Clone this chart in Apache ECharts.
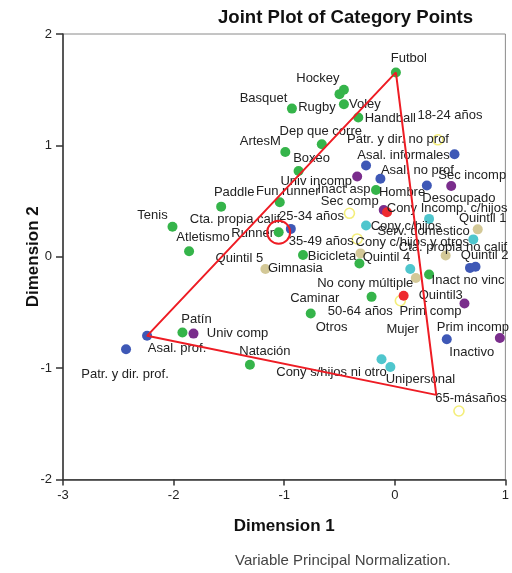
<!DOCTYPE html>
<html>
<head>
<meta charset="utf-8">
<script src="https://cdn.jsdelivr.net/npm/echarts@6/dist/echarts.min.js"></script>
<style>
  html, body { margin: 0; padding: 0; background: #fff; }
  #chart { width: 512px; height: 573px; }
</style>
</head>
<body>
<div id="chart"></div>
<script>
// Category points: [label, dimension 1, dimension 2]
const deportes = [
  ['Futbol', 0.01, 1.655], ['Hockey', -0.46, 1.50], ['Basquet', -0.50, 1.46],
  ['Rugby', -0.93, 1.33], ['Voley', -0.46, 1.37], ['Handball', -0.33, 1.25],
  ['Dep que corre', -0.66, 1.01], ['ArtesM', -0.99, 0.94], ['Boxeo', -0.87, 0.77],
  ['Fun runner', -1.04, 0.49], ['Paddle', -1.57, 0.45], ['Tenis', -2.01, 0.27],
  ['Atletismo', -1.86, 0.05], ['Runner', -1.05, 0.22], ['Bicicleta', -0.83, 0.015],
  ['Gimnasia', -0.32, -0.06], ['Caminar', -0.76, -0.51], ['Otros', -0.21, -0.36],
  ['Patín', -1.92, -0.68], ['Natación', -1.31, -0.97]
];
const ocupacion = [
  ['Asal. prof.', -2.24, -0.71], ['Patr. y dir. prof.', -2.43, -0.83],
  ['Patr. y dir. no prof', -0.26, 0.82], ['Asal. informales', 0.54, 0.92],
  ['Asal. no prof', -0.13, 0.70], ['Desocupado', 0.29, 0.64],
  ['Inactivo', 0.47, -0.74], ['Cta. propia calif.', -0.94, 0.25],
  ['Cta. propia no calif', 0.68, -0.10], ['Serv. domestico', 0.73, -0.09]
];
const inactividad = [
  ['Inact asp', -0.17, 0.60], ['Inact no vinc', 0.31, -0.16]
];
const educacion = [
  ['Univ comp', -1.82, -0.69], ['Univ incomp', -0.34, 0.72], ['Sec comp', -0.10, 0.42],
  ['Sec incomp', 0.51, 0.635], ['Prim comp', 0.63, -0.42], ['Prim incomp', 0.95, -0.73]
];
const sexo = [
  ['Hombre', -0.07, 0.40], ['Mujer', 0.08, -0.35]
];
const edad = [
  ['18-24 años', 0.39, 1.05], ['25-34 años', -0.41, 0.39], ['35-49 años', -0.34, 0.16],
  ['50-64 años', 0.05, -0.395], ['65-másaños', 0.58, -1.385]
];
const hogar = [
  ['Cony c/hijos', -0.26, 0.28], ['Cony Incomp. c/hijos', 0.31, 0.34],
  ['Cony c/hijos y otros', 0.71, 0.156], ['No cony múltiple', 0.14, -0.11],
  ['Cony s/hijos ni otro', -0.12, -0.92], ['Unipersonal', -0.04, -0.99]
];
const quintiles = [
  ['Quintil 1', 0.75, 0.246], ['Quintil 2', 0.46, 0.011], ['Quintil3', 0.19, -0.19],
  ['Quintil 4', -0.31, 0.03], ['Quintil 5', -1.17, -0.11]
];
// Annotation triangle (data units) and the highlighted category
const triangulo = [[0.01, 1.655], [-2.24, -0.71], [0.375, -1.24], [0.01, 1.655]];
const destacado = 'Runner';

const xTicks = [-3, -2, -1, 0, 1];
const yTicks = [-2, -1, 0, 1, 2];

// Label placement relative to each point (pixels)
const labelOffsets = {
  'Futbol': [13, -14], 'Hockey': [-26, -11], 'Basquet': [-76, 4], 'Rugby': [25, -1],
  'Voley': [21, 0], 'Handball': [32, 1], 'Dep que corre': [-1, -13], 'ArtesM': [-25, -11],
  'Boxeo': [13, -13], 'Fun runner': [8, -11], 'Paddle': [13, -14], 'Tenis': [-20, -11],
  'Atletismo': [14, -14], 'Runner': [-26, 1], 'Bicicleta': [29, 1], 'Gimnasia': [-64, 5],
  'Caminar': [4, -15], 'Otros': [-40, 31], 'Patín': [14, -13], 'Natación': [15, -13],
  'Asal. prof.': [30, 13], 'Patr. y dir. prof.': [-1, 25], 'Patr. y dir. no prof': [32, -26],
  'Asal. informales': [-51, 1], 'Asal. no prof': [37, -8], 'Desocupado': [32, 13],
  'Inactivo': [25, 13], 'Cta. propia calif.': [-54, -9], 'Cta. propia no calif': [-17, -20],
  'Serv. domestico': [-52, -35], 'Inact asp': [-32, -1], 'Inact no vinc': [39, 6],
  'Univ comp': [44, 0], 'Univ incomp': [-41, 5], 'Sec comp': [-34, -9], 'Sec incomp': [21, -11],
  'Prim comp': [-34, 8], 'Prim incomp': [-27, -11], 'Hombre': [15, -20], 'Mujer': [-1, 34],
  '18-24 años': [12, -24], '25-34 años': [-38, 3], '35-49 años': [-36, 2], '50-64 años': [-40, 11],
  '65-másaños': [12, -13], 'Cony c/hijos': [40, 1], 'Cony Incomp. c/hijos': [18, -10],
  'Cony c/hijos y otros': [-61, 3], 'No cony múltiple': [-45, 14], 'Cony s/hijos ni otro': [-50, 13],
  'Unipersonal': [30, 12], 'Quintil 1': [5, -11], 'Quintil 2': [39, 0], 'Quintil3': [25, 18],
  'Quintil 4': [26, 4], 'Quintil 5': [-26, -11]
};

const FONT = '"Liberation Sans", Arial, sans-serif';

function pointSeries(rows, style) {
  return {
    type: 'scatter',
    symbol: 'circle',
    symbolSize: style.size || 10,
    itemStyle: Object.assign({ opacity: 1 }, style.item),
    z: 3,
    label: {
      show: true,
      position: 'inside',
      formatter: '{b}',
      fontFamily: FONT,
      fontSize: 13,
      color: '#222',
      align: 'center',
      verticalAlign: 'middle'
    },
    emphasis: { disabled: true },
    data: rows.map(([name, d1, d2]) => ({
      name: name,
      value: [d1, d2],
      label: { offset: labelOffsets[name] || [0, 0] }
    }))
  };
}

const runnerRow = deportes.find(r => r[0] === destacado);

const option = {
  animation: false,
  backgroundColor: '#fff',
  grid: {
    left: 63, top: 34, right: 2.5, bottom: 93.5,
    show: true, borderColor: '#8a8a8a', borderWidth: 1
  },
  xAxis: {
    type: 'value', min: xTicks[0], max: xTicks[xTicks.length - 1], interval: 1,
    name: 'Dimension 1', nameLocation: 'middle', nameGap: 38,
    nameTextStyle: { fontFamily: FONT, fontSize: 17, fontWeight: 'bold', color: '#111' },
    axisLine: { show: true, onZero: false, lineStyle: { color: '#333', width: 1.5 } },
    axisTick: { show: true, length: 6, lineStyle: { color: '#333', width: 1.5 } },
    axisLabel: { margin: 9, fontFamily: FONT, fontSize: 13, color: '#222' },
    splitLine: { show: false }
  },
  yAxis: {
    type: 'value', min: yTicks[0], max: yTicks[yTicks.length - 1], interval: 1,
    name: 'Dimension 2', nameLocation: 'middle', nameGap: 21, nameRotate: 90,
    nameMoveOverlap: false,
    nameTextStyle: { fontFamily: FONT, fontSize: 17, fontWeight: 'bold', color: '#111' },
    axisLine: { show: true, onZero: false, lineStyle: { color: '#333', width: 1.5 } },
    axisTick: { show: true, length: 7, lineStyle: { color: '#333', width: 1.5 } },
    axisLabel: { margin: 11, fontFamily: FONT, fontSize: 13, color: '#222' },
    splitLine: { show: false }
  },
  graphic: [
    { type: 'text', left: 218, top: 8,
      style: { text: 'Joint Plot of Category Points', font: 'bold 18.6px ' + FONT, fill: '#111' } },
    { type: 'text', left: 235, top: 553,
      style: { text: 'Variable Principal Normalization.', font: '15px ' + FONT, fill: '#444' } }
  ],
  series: [
    pointSeries(deportes, { item: { color: '#35b44a' } }),
    pointSeries(ocupacion, { item: { color: '#3e58b6' } }),
    pointSeries(inactividad, { item: { color: '#35b44a' } }),
    pointSeries(educacion, { item: { color: '#7a2d8c' } }),
    pointSeries(edad, { size: 10, item: { color: '#ffffff', borderColor: '#f4ee7a', borderWidth: 1.6 } }),
    pointSeries(sexo, { item: { color: '#ee2a2f' } }),
    pointSeries(hogar, { item: { color: '#4fc6cd' } }),
    pointSeries(quintiles, { item: { color: '#d3c897' } }),
    {
      type: 'line',
      data: triangulo,
      symbol: 'none',
      z: 6,
      lineStyle: { color: '#ee1c24', width: 2 },
      emphasis: { disabled: true },
      silent: true
    },
    {
      type: 'scatter',
      data: [[runnerRow[1], runnerRow[2]]],
      symbol: 'circle',
      symbolSize: 23,
      z: 6,
      itemStyle: { color: 'rgba(0,0,0,0)', borderColor: '#ee1c24', borderWidth: 2, opacity: 1 },
      emphasis: { disabled: true },
      silent: true
    }
  ]
};

const chart = echarts.init(document.getElementById('chart'), null, { renderer: 'canvas' });
chart.setOption(option);
</script>
</body>
</html>
